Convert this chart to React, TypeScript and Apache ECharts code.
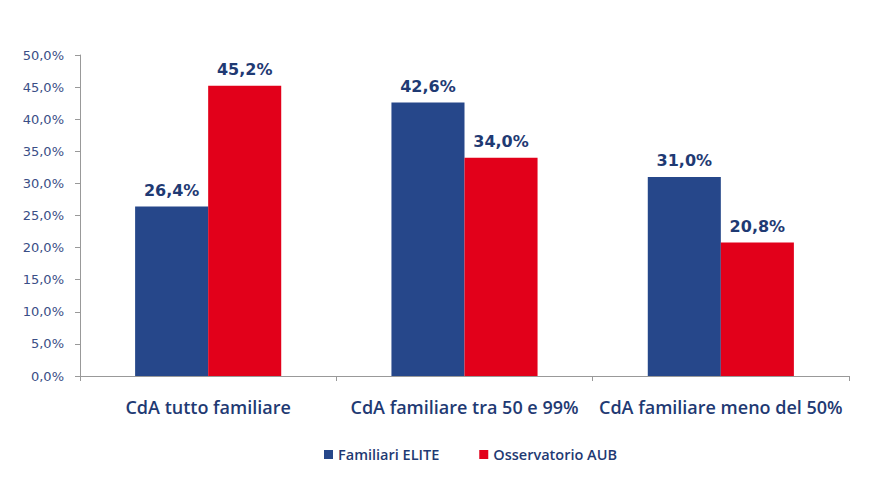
import React, { useEffect, useRef } from "react";
import * as echarts from "echarts";

const categories = ["CdA tutto familiare", "CdA familiare tra 50 e 99%", "CdA familiare meno del 50%"];
const eliteValues = [26.4, 42.6, 31.0];
const aubValues = [45.2, 34.0, 20.8];
const seriesNames = ["Familiari ELITE", "Osservatorio AUB"];

const fmt = (v: number) => v.toFixed(1).replace(".", ",") + "%";

export default function App() {
  const ref = useRef<HTMLDivElement>(null);
  useEffect(() => {
    if (!ref.current) return;
    const chart = echarts.init(ref.current, null, { renderer: "svg" });
    const textColor = "#1F3A73";
    const font = "'Open Sans', sans-serif";
    const wide = "'DejaVu Sans', sans-serif";
    const label = {
      show: true,
      position: "top",
      distance: 8,
      color: textColor,
      fontFamily: wide,
      fontSize: 16,
      fontWeight: 700,
      formatter: (p: any) => fmt(p.value),
    };
    chart.setOption({
      animation: false,
      grid: { left: 80, right: 23, top: 55, bottom: 106 },
      legend: {
        top: 442,
        left: 319,
        itemWidth: 9,
        itemHeight: 9,
        itemGap: 40,
        icon: "rect",
        textStyle: { color: textColor, fontFamily: font, fontSize: 14.5, fontWeight: 600 },
        data: seriesNames,
      },
      xAxis: {
        type: "category",
        data: categories,
        axisLine: { lineStyle: { color: "#999999" } },
        axisTick: { show: true, length: 5, lineStyle: { color: "#999999" } },
        axisLabel: { interval: 0, color: textColor, fontFamily: font, fontSize: 18, fontWeight: 600, margin: 22 },
      },
      yAxis: {
        type: "value",
        min: 0,
        max: 50,
        interval: 5,
        axisLine: { show: true, lineStyle: { color: "#999999" } },
        axisTick: { show: true, length: 5, lineStyle: { color: "#999999" } },
        splitLine: { show: false },
        axisLabel: {
          color: "#3A4E86",
          fontFamily: wide,
          fontSize: 13,
          margin: 16,
          formatter: (v: number) => fmt(v),
        },
      },
      series: [
        {
          name: seriesNames[0],
          type: "bar",
          data: eliteValues,
          barWidth: "28.5%",
          barGap: "0%",
          itemStyle: { color: "#26478A" },
          label,
        },
        {
          name: seriesNames[1],
          type: "bar",
          data: aubValues,
          barWidth: "28.5%",
          barGap: "0%",
          itemStyle: { color: "#E2001A" },
          label,
        },
      ],
    });
    return () => chart.dispose();
  }, []);
  return <div ref={ref} style={{ width: 872, height: 482, position: "absolute", left: 0, top: 0 }} />;
}
